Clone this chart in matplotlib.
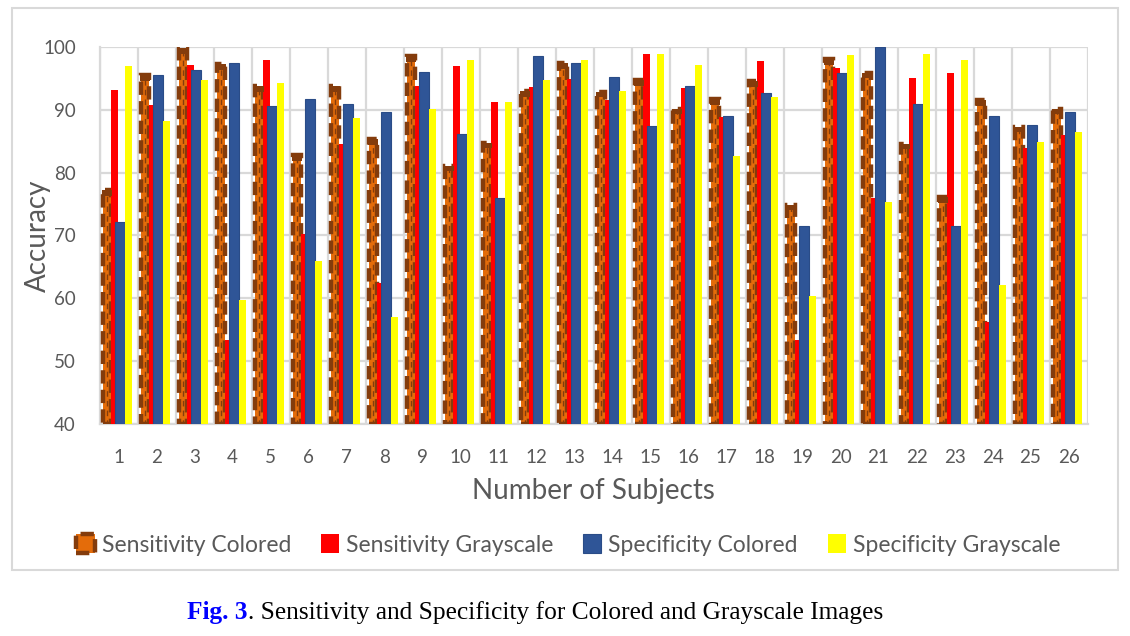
import numpy as np
import matplotlib.pyplot as plt
from matplotlib.patches import Rectangle

# values
subjects = [str(i) for i in range(1, 27)]
sens_colored = [77.2, 95.5, 99.8, 97.3, 93.8, 82.8, 93.8, 85.3, 98.5, 81.1, 84.8, 93.0, 97.4,
                92.9, 94.7, 90.2, 91.7, 94.6, 74.9, 98.1, 95.9, 84.6, 76.1, 91.5, 87.3, 90.2]
sens_gray = [93.1, 90.7, 97.1, 53.4, 97.9, 70.2, 84.6, 62.5, 93.8, 96.9, 91.3, 93.6, 94.9,
             91.5, 98.9, 93.5, 88.9, 97.8, 53.3, 96.7, 75.9, 95.1, 95.9, 56.2, 84.0, 86.0]
spec_colored = [72.1, 95.5, 96.3, 97.5, 90.6, 91.8, 90.9, 89.6, 96.0, 86.1, 75.9, 98.5, 97.5,
                95.3, 87.4, 93.8, 89.0, 92.7, 71.5, 95.9, 100.0, 91.0, 71.5, 89.0, 87.6, 89.7]
spec_gray = [97.0, 88.2, 94.8, 59.8, 94.2, 66.0, 88.7, 57.0, 90.1, 98.0, 91.3, 94.7, 98.0,
             93.0, 98.9, 97.2, 82.6, 92.0, 60.4, 98.7, 75.4, 98.9, 98.0, 62.2, 84.9, 86.4]

BASE = 40
x = np.arange(len(subjects))

fig = plt.figure(figsize=(11.3, 6.36), dpi=100)
fig.patch.set_facecolor('white')

# outer chart frame
fig.patches.append(Rectangle((12 / 1130, 1 - 570 / 636), 1106 / 1130, 562 / 636,
                             transform=fig.transFigure, fill=False,
                             edgecolor='#D9D9D9', linewidth=1.5))

ax = fig.add_axes([99.5 / 1130, 1 - 424 / 636, 988 / 1130, 377 / 636])

def h(vals):
    return np.array(vals) - BASE

# sensitivity colored: orange body with brown dashed sides and cap
ax.bar(x - 0.30, h(sens_colored), width=0.21, bottom=BASE, color='#E46C0A',
       edgecolor='#843C0C', linewidth=3.2, linestyle=(0, (3, 1.4)), zorder=3,
       label='Sensitivity Colored')
ax.vlines(x - 0.30, BASE, np.array(sens_colored), color='#843C0C', linewidth=1.0,
          linestyles=(1, (4, 3)), zorder=3.5)
ax.bar(x - 0.30, 0.9, width=0.25, bottom=np.array(sens_colored) - 0.9, color='#843C0C',
       zorder=4)
ax.bar(x - 0.11, h(sens_gray), width=0.18, bottom=BASE, color='#FF0000', zorder=3,
       label='Sensitivity Grayscale')
ax.bar(x + 0.045, h(spec_colored), width=0.27, bottom=BASE, color='#2F5597',
       edgecolor='#2A4C87', linewidth=0.8, zorder=3, label='Specificity Colored')
ax.bar(x + 0.27, h(spec_gray), width=0.18, bottom=BASE, color='#FFFF00', zorder=3,
       label='Specificity Grayscale')

ax.set_xlim(-0.5, len(subjects) - 0.5)
ax.set_ylim(40, 100)
ax.set_yticks(range(40, 101, 10))
ax.set_xticks(x)
ax.set_xticklabels(subjects)
ax.set_xticks(np.arange(-0.5, len(subjects), 1), minor=True)
ax.grid(axis='y', color='#D9D9D9', linewidth=1.6, zorder=0)
ax.grid(axis='x', which='minor', color='#D9D9D9', linewidth=1.6, zorder=0)
ax.tick_params(axis='both', which='both', length=0, labelsize=13.5, colors='#595959',
               labelfontfamily='Lato')
ax.tick_params(axis='x', pad=18)
ax.tick_params(axis='y', pad=17)
for s in ax.spines.values():
    s.set_color('#D9D9D9')
    s.set_linewidth(1.6)
ax.spines['top'].set_visible(False)
ax.spines['right'].set_visible(False)

ax.set_ylabel('Accuracy', fontsize=20, color='#595959', family='Lato')
ax.set_xlabel('Number of Subjects', fontsize=20, color='#595959', family='Lato')
ax.yaxis.set_label_coords(-0.049, 0.5)
ax.xaxis.set_label_coords(0.5, -0.142)

leg = fig.legend(loc='center', bbox_to_anchor=(0.503, 1 - 545 / 636), ncol=4, frameon=False,
                 prop={'family': 'Lato', 'size': 16.5}, handlelength=0.8, handleheight=0.9,
                 handletextpad=0.3, columnspacing=1.3)
for t in leg.get_texts():
    t.set_color('#595959')

# caption below the chart
cap_y = 1 - 613 / 636
t1 = fig.text(187 / 1130, cap_y, 'Fig. 3', color='#0000FF', fontsize=18.3, fontweight='bold',
              family='Liberation Serif', va='center')
fig.canvas.draw()
bb = t1.get_window_extent()
fig.text(bb.x1 / 1130, cap_y, '. Sensitivity and Specificity for Colored and Grayscale Images',
         color='black', fontsize=18.3, family='Liberation Serif', va='center')

fig.savefig('out.png', dpi=100, facecolor='white')
